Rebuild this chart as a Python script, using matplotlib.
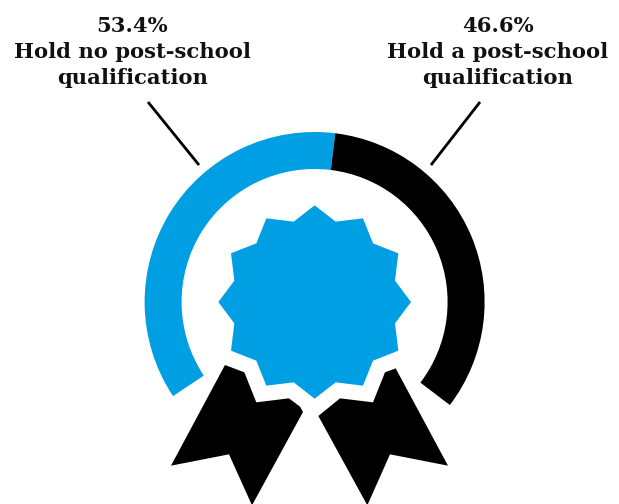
import matplotlib
matplotlib.use("Agg")
import matplotlib.pyplot as plt
from matplotlib.patches import Wedge, Polygon

categories = ["Hold no post-school\nqualification", "Hold a post-school\nqualification"]
share_labels = ["53.4%", "46.6%"]
# Arc spans as drawn in the picture, in degrees
arc_spans = [130.6, 120.3]
colors = ["#009FE3", "#000000"]

W, H = 619, 504
fig = plt.figure(figsize=(W / 100, H / 100), dpi=100)
ax = fig.add_axes([0, 0, 1, 1])
ax.set_xlim(0, W)
ax.set_ylim(H, 0)   # pixel coordinates, y down
ax.axis("off")

cx, cy = 314.6, 302
R_out, R_in = 170, 133
# Angles measured with y down: 0 = east, growing clockwise on screen
a = 146.4
for s, c in zip(arc_spans, colors):
    ax.add_patch(Wedge((cx, cy), R_out, a, a + s, width=R_out - R_in, fc=c, ec="none"))
    a += s

# Rosette
zx, zy = 200, 190
half = [(344, 46), (407, 95), (489, 85), (519, 160), (595, 190), (585, 272), (633, 336),
        (585, 400), (595, 482), (519, 512), (489, 587), (407, 577), (344, 626)]
mirror = [(688 - x, y) for x, y in half[-2:0:-1]]
star = [(zx + x / 3, zy + y / 3) for x, y in half + mirror]
ax.add_patch(Polygon(star, closed=True, fc=colors[0], ec="none"))

# Ribbons
rx, ry = 130, 340
left = [(285, 75), (343, 97), (379, 187), (477, 175), (510, 200), (519, 216), (366, 496), (297, 343), (123, 377)]
right = [(797, 85), (765, 97), (729, 187), (630, 175), (565, 228), (712, 496), (780, 343), (954, 377)]
for pts in (left, right):
    ax.add_patch(Polygon([(rx + x / 3, ry + y / 3) for x, y in pts], closed=True, fc="black", ec="none"))

# Leader lines
ax.plot([148, 199], [102, 165], color="black", lw=2.0, solid_capstyle="butt")
ax.plot([480, 431], [102, 165], color="black", lw=2.0, solid_capstyle="butt")

# Labels
font = dict(family="DejaVu Serif", weight="bold", fontsize=15.2, color="#111111", ha="center", va="baseline")
for xc, pct, cat in zip([132.5, 497.5], share_labels, categories):
    l1, l2 = cat.split("\n")
    ax.text(xc, 31.5, pct, **font)
    ax.text(xc, 58, l1, **font)
    ax.text(xc, 84, l2, **font)

fig.savefig("out.png", dpi=100)
